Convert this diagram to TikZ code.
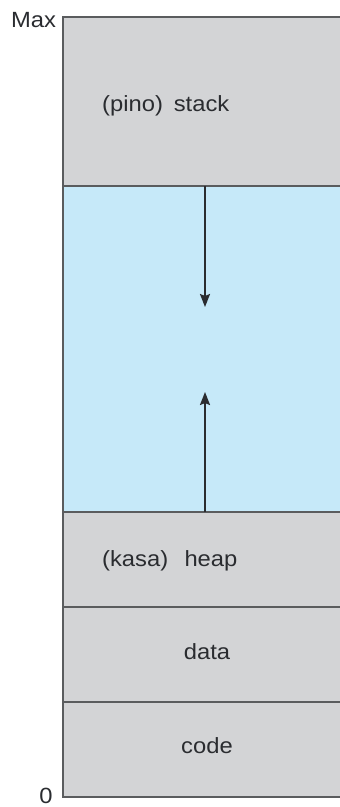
\documentclass[tikz,border=0pt]{standalone}
\usepackage{fontspec}
\setmainfont{Liberation Sans}
\usetikzlibrary{arrows.meta}
\definecolor{seggray}{HTML}{D3D4D6}
\definecolor{segblue}{HTML}{C6E9F9}
\definecolor{edgegray}{HTML}{5A5C5E}
\definecolor{inkdark}{HTML}{2A2C30}
\newcommand{\wide}[1]{\scalebox{1.08}[1]{#1}}
\begin{document}
\begin{tikzpicture}[x=1pt,y=-1pt,
  seg/.style={draw=edgegray,line width=1.4pt},
  lbl/.style={font=\fontsize{22}{26}\selectfont,text=inkdark,inner sep=0pt},
  growarrow/.style={draw=inkdark,line width=2pt,-{Stealth[length=13pt,width=10pt,inset=2pt]}}]
\useasboundingbox (0,0) rectangle (340,807);
% memory segments, top to bottom
\fill[seggray] (63,17) rectangle (342,186);
\fill[segblue] (63,186) rectangle (342,512);
\fill[seggray] (63,512) rectangle (342,797);
\draw[seg] (342,17) -- (63,17) -- (63,797) -- (342,797);
\draw[seg] (63,186) -- (342,186);
\draw[seg] (63,512) -- (342,512);
\draw[seg] (63,607) -- (342,607);
\draw[seg] (63,702) -- (342,702);
% growth arrows
\coordinate (stacktop) at (205,186);
\coordinate (stackend) at (205,307);
\coordinate (heaptop) at (205,512);
\coordinate (heapend) at (205,392);
\draw[growarrow] (stacktop) -- (stackend);
\draw[growarrow] (heaptop) -- (heapend);
% labels
\node[lbl,anchor=base west] (stack) at (102,111) {\wide{(pino)\hspace{4pt} stack}};
\node[lbl,anchor=base west] (heap) at (102,566) {\wide{(kasa)\hspace{9pt} heap}};
\node[lbl,anchor=base] (data) at (207,659) {\wide{data}};
\node[lbl,anchor=base] (code) at (207,753) {\wide{code}};
\node[lbl,anchor=base west] (max) at (11,27) {\wide{Max}};
\node[lbl,anchor=base] (zero) at (46,803) {\wide{0}};
\end{tikzpicture}
\end{document}
